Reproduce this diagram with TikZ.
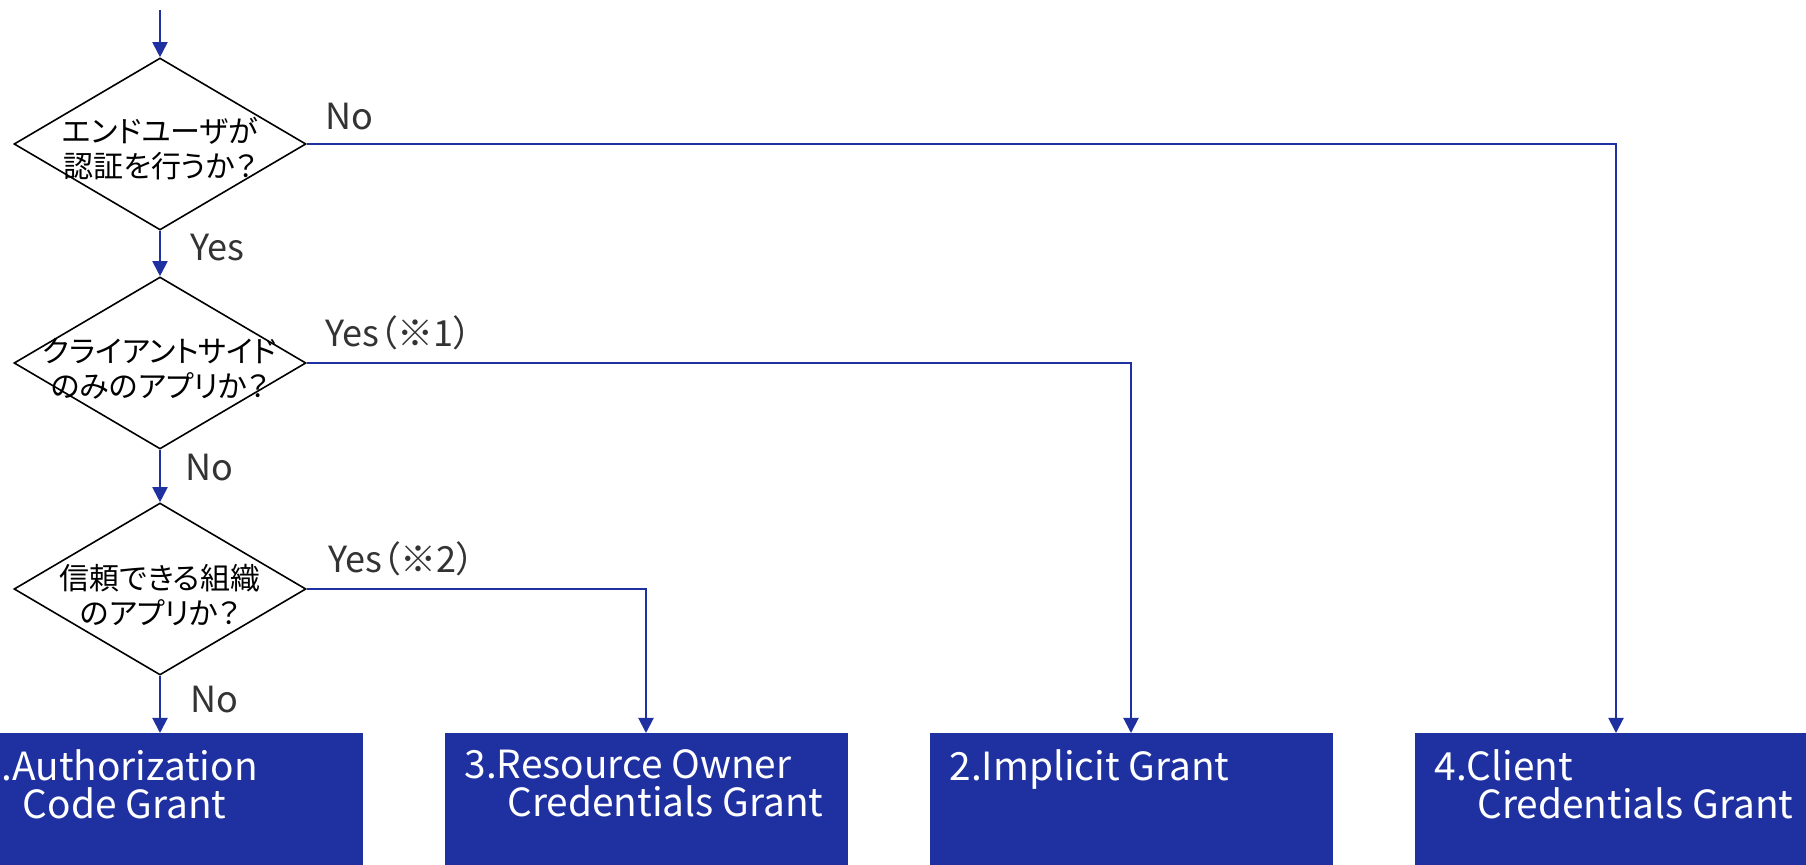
\documentclass[tikz,border=0pt]{standalone}
\usepackage{fontspec}
\setmainfont{Noto Sans CJK JP}[RawFeature=+palt]
\usetikzlibrary{shapes.geometric,arrows.meta,positioning}

\definecolor{flowblue}{HTML}{1F31A1}
\definecolor{answergray}{HTML}{333333}

\tikzset{
	decision/.style={diamond, draw=black, line width=0.8pt, minimum width=146pt, minimum height=86pt, inner sep=0pt},
	question/.style={align=center, inner sep=0pt, font=\fontsize{15pt}{17.5pt}\selectfont},
	grant/.style={rectangle, fill=flowblue, minimum width=201.5pt, minimum height=70pt, anchor=north, inner sep=0pt},
	granttext/.style={align=left, text=white, inner sep=0pt, font=\fontsize{19.4pt}{19.2pt}\selectfont},
	answer/.style={anchor=base west, text=answergray, inner sep=0pt, font=\fontsize{18pt}{20pt}\selectfont},
	flow/.style={draw=flowblue, line width=1pt, -{Triangle[width=7.5pt,length=7.5pt]}}
}

\begin{document}
\begin{tikzpicture}[x=0.5pt,y=-0.5pt]
	\useasboundingbox (0,0) rectangle (1806,865);
	% questions
	\coordinate (start) at (160,10);
	\node[decision] (enduser) at (160,144) {};
	\node[question] (enduserq) at (160,149) {エンドユーザが\\認証を行うか？};
	\node[decision] (clientside) at (160,363) {};
	\node[question] (clientsideq) at (160,369) {クライアントサイド\\のみのアプリか？};
	\node[decision] (trusted) at (160,589) {};
	\node[question] (trustedq) at (160,595) {信頼できる組織\\のアプリか？};
	% grant types
	\node[grant] (authcode) at (161.5,733) {};
	\node[grant] (password) at (646,733) {};
	\node[grant] (implicit) at (1131,733) {};
	\node[grant] (clientcred) at (1616,733) {};
	\node[granttext, below right=8pt and 10pt of authcode.north west] (authcodet) {1.Authorization\\\hspace*{21.5pt}Code Grant};
	\node[granttext, below right=8pt and 10pt of password.north west] (passwordt) {3.Resource Owner\\\hspace*{21.5pt}Credentials Grant};
	\node[granttext, below right=8pt and 10pt of implicit.north west] (implicitt) {2.Implicit Grant};
	\node[granttext, below right=8pt and 10pt of clientcred.north west] (clientcredt) {4.Client\\\hspace*{21.5pt}Credentials Grant};
	% connectors
	\draw[flow] (start) -- (enduser.north);
	\draw[flow] (enduser.east) -| (clientcred.north);
	\draw[flow] (enduser.south) -- (clientside.north);
	\draw[flow] (clientside.east) -| (implicit.north);
	\draw[flow] (clientside.south) -- (trusted.north);
	\draw[flow] (trusted.east) -| (password.north);
	\draw[flow] (trusted.south) -- (trusted.south |- authcode.north);
	% answers
	\node[answer] (no1) at (325,130) {No};
	\node[answer] (yes1) at (190,261) {Yes};
	\node[answer] (yes2) at (325,347) {Yes（※1）};
	\node[answer] (no2) at (185,481) {No};
	\node[answer] (yes3) at (328,573) {Yes（※2）};
	\node[answer] (no3) at (190,713) {No};
\end{tikzpicture}
\end{document}
